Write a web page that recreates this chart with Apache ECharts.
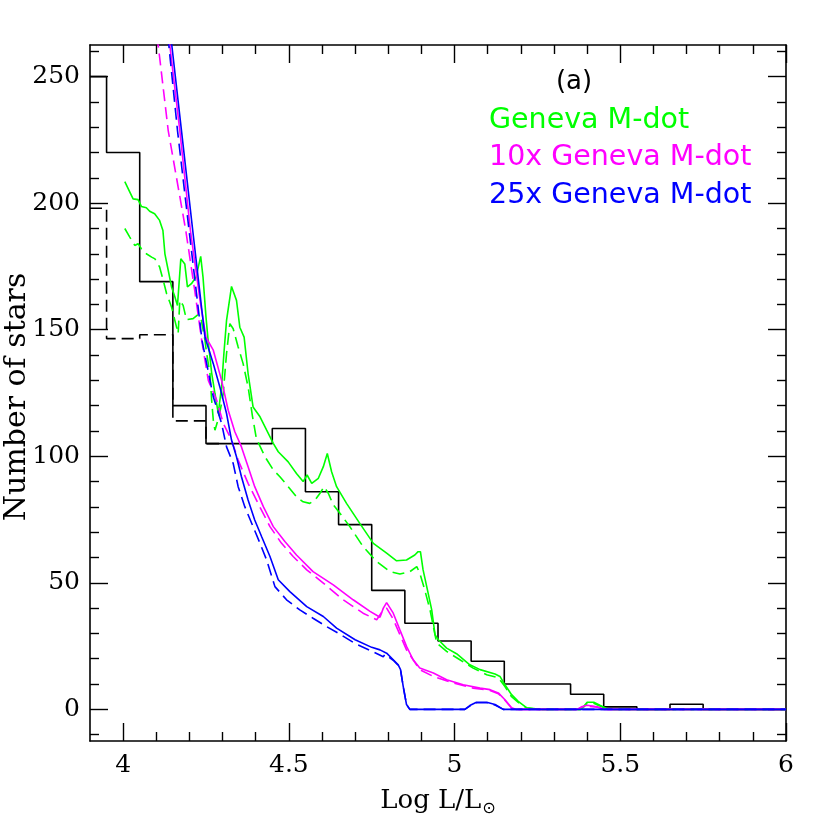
<!DOCTYPE html>
<html>
<head>
<meta charset="utf-8">
<script src="https://cdn.jsdelivr.net/npm/echarts@6.0.0/dist/echarts.min.js"></script>
<style>
html,body{margin:0;padding:0;background:#fff;}
#chart{width:830px;height:830px;}
</style>
</head>
<body>
<div id="chart"></div>
<script>
// ---- data ----
const histCenters = [3.9,4.0,4.1,4.2,4.3,4.4,4.5,4.6,4.7,4.8,4.9,5.0,5.1,5.2,5.3,5.4,5.5,5.6,5.7,5.8,5.9,6.0];
const histSolid   = [250,220,169,120,105,105,111,86,73,47,34,27,19,10,10,6,1,0,2,0,0,0];
const histDashedCenters = [3.9,4.0,4.1,4.2,4.3];
const histDashed  = [198,146.5,148,114,105];

const genevaSolid = [[4.005,208.5],[4.03,201.7],[4.045,201.4],[4.055,198.7],[4.07,198.2],[4.08,196.8],[4.095,195.8],[4.11,193.2],[4.12,189.2],[4.126,180],[4.136,173.5],[4.146,166.9],[4.156,163],[4.164,159.6],[4.174,178],[4.186,176],[4.194,166.9],[4.206,168.2],[4.22,170.8],[4.234,179],[4.241,170.8],[4.25,155],[4.257,145],[4.267,133],[4.277,124.8],[4.287,117],[4.297,127.4],[4.304,140.6],[4.312,153.7],[4.327,167.1],[4.342,161.6],[4.352,151],[4.365,147.1],[4.377,132.7],[4.392,119.5],[4.413,115.6],[4.433,110.3],[4.453,105.1],[4.468,101.8],[4.498,97.8],[4.523,93.2],[4.543,90],[4.555,92.6],[4.569,89.3],[4.589,91.3],[4.604,95.9],[4.616,101.1],[4.629,93.9],[4.644,88],[4.674,81.4],[4.714,73.5],[4.755,65.6],[4.795,61.7],[4.825,58.7],[4.855,59],[4.88,61],[4.89,62.3],[4.897,62.3],[4.905,55.1],[4.916,48.5],[4.931,39.3],[4.941,29.5],[4.951,27.5],[4.976,24.2],[5.006,22],[5.046,17.6],[5.077,15.7],[5.122,14],[5.137,13],[5.152,9.7],[5.172,5.8],[5.192,3.2],[5.218,0.6],[5.258,0],[5.38,0],[5.39,1.2],[5.4,2.8],[5.42,2.8],[5.44,1.5],[5.46,0.3],[5.48,0],[6.0,0]];
const genevaDashed = [[4.005,190],[4.02,186.6],[4.035,183.3],[4.045,184],[4.055,182],[4.07,180],[4.086,178.7],[4.096,178],[4.11,174.8],[4.121,169.5],[4.131,164.3],[4.146,159],[4.156,153.7],[4.166,148.5],[4.171,161.6],[4.181,159.6],[4.191,154],[4.211,154.4],[4.226,156],[4.236,153.7],[4.247,145.8],[4.252,140.6],[4.262,132.7],[4.267,122.2],[4.272,114.3],[4.277,110.3],[4.29,116],[4.302,124.8],[4.312,140.6],[4.322,152.4],[4.332,150.4],[4.347,143.2],[4.362,136.6],[4.377,127.4],[4.39,116],[4.402,107],[4.428,99.8],[4.453,94.6],[4.473,91.9],[4.498,88],[4.523,84],[4.543,82],[4.563,81.4],[4.579,82.7],[4.594,85.4],[4.606,88],[4.619,85.4],[4.634,80.8],[4.654,77.5],[4.684,72.2],[4.724,64.3],[4.765,58.4],[4.805,54.4],[4.835,53.5],[4.865,54.4],[4.886,56.4],[4.895,53.8],[4.91,47.2],[4.926,39.3],[4.936,32.7],[4.946,26.2],[4.976,22.9],[5.016,19.6],[5.056,16.3],[5.097,13.7],[5.132,12.5],[5.152,9],[5.172,5],[5.192,2.8],[5.218,0.5],[5.258,0],[5.38,0],[5.39,1],[5.4,2.4],[5.42,2.4],[5.44,1.2],[5.46,0.3],[5.48,0],[6.0,0]];
const tenxSolid = [[4.120,280],[4.141,262.2],[4.171,228.7],[4.203,189.2],[4.232,161.6],[4.250,147],[4.272,141.9],[4.297,130],[4.317,118.2],[4.337,109.7],[4.357,103.7],[4.377,95.9],[4.397,88],[4.423,80.1],[4.453,72.2],[4.488,66.3],[4.523,61],[4.573,54.4],[4.634,49.2],[4.694,43.3],[4.745,38.7],[4.775,36.4],[4.785,40],[4.795,42.2],[4.815,38],[4.835,31.4],[4.855,24.9],[4.875,19.6],[4.895,16.3],[4.936,14.4],[4.976,11.7],[5.026,9.7],[5.077,8.4],[5.107,7.8],[5.132,6.5],[5.152,3.8],[5.172,0.6],[5.185,0],[5.37,0],[5.383,1],[5.4,1.6],[5.43,1],[5.45,0],[6,0]];
const tenxDashed = [[4.075,280],[4.106,262.2],[4.136,228.7],[4.189,189.2],[4.216,165.5],[4.237,145.8],[4.257,130],[4.282,122.2],[4.302,113],[4.327,106.4],[4.347,98.5],[4.377,89.3],[4.407,81.4],[4.443,72.2],[4.478,65.6],[4.513,60.4],[4.554,55.1],[4.604,49.9],[4.664,43.3],[4.724,38],[4.765,35.4],[4.785,39.3],[4.795,40],[4.815,35.6],[4.855,23.5],[4.895,15.7],[4.936,13],[4.996,10.4],[5.056,8.4],[5.107,7.5],[5.132,6.2],[5.152,3.6],[5.172,0.5],[5.185,0],[5.37,0],[5.383,0.9],[5.4,1.3],[5.43,0.9],[5.45,0],[6,0]];
const x25Solid = [[4.129,280],[4.147,262.2],[4.176,228.7],[4.210,189.2],[4.247,147],[4.272,136.6],[4.292,127.3],[4.312,116.9],[4.327,106.4],[4.342,99.8],[4.357,91.9],[4.377,82.7],[4.397,74.8],[4.418,68.2],[4.443,60.4],[4.468,51.2],[4.503,46.5],[4.554,40.6],[4.604,36.7],[4.644,32.1],[4.70,27.5],[4.75,24.5],[4.775,23.5],[4.795,22.2],[4.815,19.6],[4.83,17.6],[4.837,15.7],[4.845,9.1],[4.855,1.9],[4.865,0],[5.031,0],[5.046,1.5],[5.066,2.8],[5.097,2.8],[5.122,1.9],[5.147,0],[6.0,0]];
const x25Dashed = [[4.117,280],[4.138,262.2],[4.164,228.7],[4.199,189.2],[4.238,145.8],[4.272,123.5],[4.297,113],[4.312,103.7],[4.332,97.2],[4.347,88],[4.367,80.1],[4.392,72.2],[4.413,65.6],[4.433,59],[4.458,48.5],[4.493,43.3],[4.533,39.3],[4.573,36],[4.614,32.7],[4.65,30],[4.70,26],[4.75,23],[4.785,20.8],[4.79,21.8],[4.815,19.4],[4.83,17.4],[4.837,15.5],[4.845,9],[4.855,1.9],[4.865,0],[5.031,0],[5.046,1.3],[5.066,2.6],[5.097,2.6],[5.122,1.7],[5.147,0],[6.0,0]];

const xMajorTicks = [4,4.5,5,5.5,6];
const xMinorTicks = [4.1,4.2,4.3,4.4,4.6,4.7,4.8,4.9,5.1,5.2,5.3,5.4,5.6,5.7,5.8,5.9];
const yMajorTicks = [0,50,100,150,200,250];
const yMinorTicks = [-10,10,20,30,40,60,70,80,90,110,120,130,140,160,170,180,190,210,220,230,240,260];

const legendLabels = ['Geneva M-dot','10x Geneva M-dot','25x Geneva M-dot'];
const colors = {black:'#000000', green:'#00ff00', magenta:'#ff00ff', blue:'#0000ff'};

// ---- chart ----
const XMIN = 3.9, XMAX = 6.0, YMIN = -12.5, YMAX = 262.5;
const serif = '"DejaVu Serif", "Liberation Serif", serif';
const sans = '"DejaVu Sans", sans-serif';
const axisCol = '#000';

function axisDef(kind, pos, ticks, len, labels, showLine, extra) {
  return Object.assign({
    type:'value', min: kind==='x'?XMIN:YMIN, max: kind==='x'?XMAX:YMAX, position:pos, gridIndex:0,
    axisLine:{show:showLine, onZero:false, lineStyle:{color:axisCol, width:1.6}},
    axisTick:{show:true, inside:true, length:len, customValues:ticks, lineStyle:{color:axisCol, width:1.4}},
    axisLabel:{show:labels, customValues:ticks, margin: kind==='x'?12:10, color:'#000', fontFamily:serif, fontSize:25, formatter:v=>String(v)},
    splitLine:{show:false}
  }, extra||{});
}

function lineSeries(data, color, dashed, z) {
  return {
    type:'line', xAxisIndex:0, yAxisIndex:0, data:data, showSymbol:false, symbol:'none',
    clip:true, z:z, silent:true,
    lineStyle:{color:color, width:1.6, type: dashed ? [12,6] : 'solid'}
  };
}
function histSeries(centers, vals, dashed, z) {
  return {
    type:'line', xAxisIndex:0, yAxisIndex:0, step:'middle',
    data:centers.map((c,i)=>[c, vals[i]]), showSymbol:false, symbol:'none', clip:true, z:z, silent:true,
    lineStyle:{color:colors.black, width:1.6, type: dashed ? [12,6] : 'solid'}
  };
}

const chart = echarts.init(document.getElementById('chart'), null, {renderer:'canvas'});
chart.setOption({
  animation:false,
  backgroundColor:'#fff',
  grid:{left:90, right:44, top:45, bottom:89, containLabel:false, outerBoundsMode:'none'},
  xAxis:[
    axisDef('x','bottom', xMajorTicks, 18, true, true, {
      name:'{a|Log L/L}{b|\u2299}', nameLocation:'middle', nameGap:45,
      nameTextStyle:{rich:{a:{fontFamily:serif, fontSize:26, color:'#000'}, b:{fontFamily:sans, fontSize:16, color:'#000', padding:[15,0,0,1]}}}
    }),
    axisDef('x','bottom', xMinorTicks, 9, false, false),
    axisDef('x','top', xMajorTicks, 18, false, true),
    axisDef('x','top', xMinorTicks, 9, false, false)
  ],
  yAxis:[
    axisDef('y','left', yMajorTicks, 18, true, true),
    axisDef('y','left', yMinorTicks, 9, false, false),
    axisDef('y','right', yMajorTicks, 18, false, true),
    axisDef('y','right', yMinorTicks, 9, false, false)
  ],
  series:[
    histSeries(histCenters, histSolid, false, 2),
    histSeries(histDashedCenters, histDashed, true, 2),
    lineSeries(genevaSolid, colors.green, false, 3),
    lineSeries(genevaDashed, colors.green, true, 3),
    lineSeries(tenxSolid, colors.magenta, false, 4),
    lineSeries(tenxDashed, colors.magenta, true, 4),
    lineSeries(x25Solid, colors.blue, false, 5),
    lineSeries(x25Dashed, colors.blue, true, 5)
  ],
  graphic:[
    {type:'text', x:17, y:397, rotation:Math.PI/2, style:{text:'Number of stars', fontFamily:serif, fontSize:30, fill:'#000', align:'center', verticalAlign:'middle'}},
    {type:'text', x:574, y:82, style:{text:'(a)', fontFamily:sans, fontSize:26, fill:'#000', align:'center', verticalAlign:'middle'}},
    {type:'text', x:489, y:121, style:{text:legendLabels[0], fontFamily:sans, fontSize:28.5, fill:colors.green, align:'left', verticalAlign:'middle'}},
    {type:'text', x:489, y:158, style:{text:legendLabels[1], fontFamily:sans, fontSize:28.5, fill:colors.magenta, align:'left', verticalAlign:'middle'}},
    {type:'text', x:489, y:196, style:{text:legendLabels[2], fontFamily:sans, fontSize:28.5, fill:colors.blue, align:'left', verticalAlign:'middle'}}
  ]
});
</script>
</body>
</html>
